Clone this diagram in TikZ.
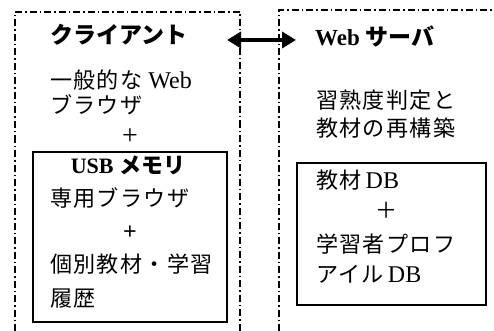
\documentclass[tikz,border=0pt]{standalone}
\usepackage{fontspec}
\setmainfont{Liberation Serif}
\newfontfamily\jp[Scale=0.92,LetterSpace=6]{Noto Sans CJK JP}
\newfontfamily\jpt{Noto Sans CJK JP}
\usetikzlibrary{arrows.meta}
\begin{document}
\begin{tikzpicture}[x=1pt,y=-1pt,
  zone/.style={line width=1.4pt,dash pattern=on 7pt off 3pt on 1.5pt off 3pt},
  inbox/.style={line width=1.8pt},
  txt/.style={anchor=base west,inner sep=0pt,text height=16pt,text depth=2pt,font=\fontsize{24}{28}\selectfont},
  ctr/.style={txt,anchor=base},
  ttl/.style={txt,font=\fontsize{23}{27}\selectfont\bfseries},
  link/.style={line width=4pt,{Triangle[length=14pt,width=16pt]}-{Triangle[length=14pt,width=16pt]}}]
\useasboundingbox (0,0) rectangle (494,331);
% zones
\coordinate (lz1) at (15,331); \coordinate (lz2) at (15,12);
\coordinate (lz3) at (240,12); \coordinate (lz4) at (240,331);
\draw[zone] (lz1) -- (lz2) -- (lz3) -- (lz4);
\coordinate (rz1) at (279,331); \coordinate (rz2) at (279,10);
\coordinate (rz3) at (494,10);
\draw[zone] (rz1) -- (rz2) -- (rz3);
% inner boxes
\coordinate (ub1) at (33,152); \coordinate (ub2) at (227,322);
\draw[inbox] (ub1) rectangle (ub2);
\coordinate (db1) at (297,163); \coordinate (db2) at (486,305);
\draw[inbox] (db1) rectangle (db2);
% arrow
\coordinate (al) at (227,40); \coordinate (ar) at (296,40);
\draw[link] (al) -- (ar);
% client texts
\node[ttl] (c0) at (50,44) {\jpt クライアント};
\node[txt] (c1) at (50,89) {{\jp 一般的な}\ Web};
\node[txt] (c2) at (50,114) {\jp ブラウザ};
\node[ctr] (c3) at (130,144) {{\fontsize{28}{30}\selectfont +}};
\node[ttl,anchor=base,font=\fontsize{22}{26}\selectfont\bfseries] (c4) at (128,173) {USB {\jpt メモリ}};
\node[ctr] (c5x) at (130,239) {\bfseries +};
\node[txt] (c5) at (50,206) {\jp 専用ブラウザ};
\node[txt] (c7) at (50,272) {\jp 個別教材・学習};
\node[txt] (c8) at (50,306) {\jp 履歴};
% server texts
\node[ttl] (s0) at (315,46) {Web {\jpt サーバ}};
\node[txt] (s1) at (316,109) {\jp 習熟度判定と};
\node[txt] (s2) at (316,136) {\jp 教材の再構築};
\node[txt] (s3) at (316,188) {{\jp 教材}\,DB};
\node[ctr] (s4) at (387,218) {\jp ＋};
\node[txt] (s5) at (316,252) {\jp 学習者プロフ};
\node[txt] (s6) at (316,282) {{\jp アイル}\,DB};
\end{tikzpicture}
\end{document}
